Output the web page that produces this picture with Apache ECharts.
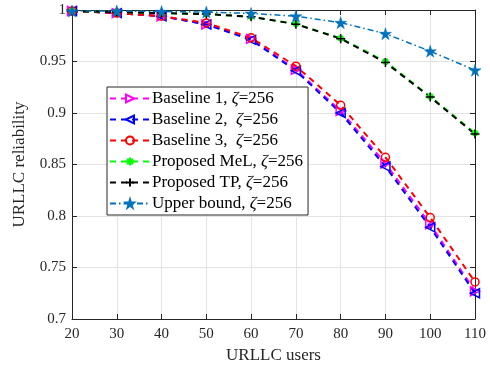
<!DOCTYPE html>
<html><head><meta charset="utf-8">
<script src="https://cdn.jsdelivr.net/npm/echarts@6/dist/echarts.min.js"></script>
<style>html,body{margin:0;padding:0;background:#fff}#c{width:490px;height:370px}</style>
</head><body><div id="c"></div>
<script>
const users = [20, 30, 40, 50, 60, 70, 80, 90, 100, 110];
const baseline1 = [0.999, 0.997, 0.994, 0.986, 0.972, 0.942, 0.902, 0.851, 0.792, 0.727];
const baseline2 = [0.999, 0.997, 0.994, 0.986, 0.971, 0.941, 0.900, 0.848, 0.789, 0.725];
const baseline3 = [0.999, 0.997, 0.994, 0.9875, 0.973, 0.9455, 0.9075, 0.857, 0.7985, 0.736];
const proposedMeL = [0.999, 0.998, 0.997, 0.996, 0.9935, 0.9865, 0.9725, 0.950, 0.916, 0.8805];
const proposedTP = [0.999, 0.998, 0.997, 0.996, 0.9935, 0.9862, 0.9722, 0.949, 0.9155, 0.8795];
const upperBound = [0.999, 0.999, 0.9985, 0.998, 0.9967, 0.994, 0.9877, 0.977, 0.960, 0.9415];
const xTicks = [20, 30, 40, 50, 60, 70, 80, 90, 100, 110];
const yTicks = ['0.7', '0.75', '0.8', '0.85', '0.9', '0.95', '1'];
const names = ['Baseline 1, ', 'Baseline 2,  ', 'Baseline 3,  ', 'Proposed MeL, ', 'Proposed TP, ', 'Upper bound, '];

const STAR = 'path://M50,0 L61,35 L98,35 L68,57 L79,91 L50,70 L21,91 L32,57 L2,35 L39,35 Z';
const PLUS = 'path://M0,5 L10,5 M5,0 L5,10';
const AST = 'path://M0,5 L10,5 M5,0 L5,10 M1.5,1.5 L8.5,8.5 M8.5,1.5 L1.5,8.5';
const FONT = 'Liberation Serif';

function pairs(v){ return users.map((u,i)=>[u, v[i]]); }

function ser(name, data, color, opt){
  return Object.assign({
    name: name, type: 'line', data: pairs(data),
    lineStyle: {color: color, width: 2, type: [6, 5]},
    itemStyle: {color: 'rgba(255,255,255,0)', borderColor: color, borderWidth: 1.5},
    symbolSize: 8, z: 3
  }, opt);
}

const series = [
  ser(names[0], baseline1, '#ff00ff', {symbol: 'triangle', symbolRotate: -90, symbolSize: 9}),
  ser(names[1], baseline2, '#0000ff', {symbol: 'triangle', symbolRotate: 90, symbolSize: 9}),
  ser(names[2], baseline3, '#ff0000', {symbol: 'circle', symbolSize: 8}),
  ser(names[3], proposedMeL, '#00ff00', {symbol: AST, symbolSize: 7, itemStyle: {color: '#00ff00', borderColor: '#00ff00', borderWidth: 2}}),
  ser(names[4], proposedTP, '#000000', {symbol: PLUS, symbolSize: 9, itemStyle: {color: '#000', borderColor: '#000', borderWidth: 1.5}}),
  ser(names[5], upperBound, '#0072bd', {symbol: STAR, symbolSize: 12,
    lineStyle: {color: '#0072bd', width: 1.5, type: [6, 3, 1.5, 3]},
    itemStyle: {color: '#0072bd', borderColor: '#0072bd', borderWidth: 0.5}})
];

const axisLine = {show: true, lineStyle: {color: '#262626', width: 1}};
const axisTick = {show: true, inside: true, length: 5, lineStyle: {color: '#262626'}};
const lbl = {fontFamily: FONT, fontSize: 15, color: '#262626'};

const chart = echarts.init(document.getElementById('c'));
chart.setOption({
  animation: false,
  backgroundColor: '#fff',
  grid: {left: 72, right: 15, top: 10, bottom: 51},
  legend: {
    orient: 'vertical', left: 107, top: 87,
    backgroundColor: '#fff', borderColor: '#262626', borderWidth: 1,
    padding: [3, 5, 3, 2], itemGap: 4, itemWidth: 40, itemHeight: 10,
    textStyle: {fontFamily: FONT, fontSize: 17, color: '#000', padding: [0,0,0,-3],
      rich: {n: {fontFamily: FONT, fontSize: 17, color: '#000'}, z: {fontFamily: FONT, fontSize: 17, fontStyle: 'italic', color: '#000'}}},
    formatter: function(n){ return '{n|' + n + '}{z|ζ}{n|=256}'; },
    data: names
  },
  xAxis: [{
    type: 'value', min: 20, max: 110, interval: 10,
    name: 'URLLC users', nameLocation: 'middle', nameGap: 27,
    nameTextStyle: {fontFamily: FONT, fontSize: 17, color: '#262626'},
    axisLine: axisLine, axisTick: axisTick,
    axisLabel: Object.assign({margin: 8, formatter: v => String(xTicks[xTicks.indexOf(v)])}, lbl),
    splitLine: {show: true, lineStyle: {color: '#e3e3e3', width: 1}}
  }, {
    type: 'value', position: 'top', min: 20, max: 110, interval: 10,
    axisLine: axisLine, axisTick: axisTick, axisLabel: {show: false}, splitLine: {show: false}
  }],
  yAxis: [{
    type: 'value', min: 0.7, max: 1, interval: 0.05,
    name: 'URLLC reliability', nameLocation: 'middle', nameGap: 44,
    nameTextStyle: {fontFamily: FONT, fontSize: 17, color: '#262626'},
    axisLine: axisLine, axisTick: axisTick,
    axisLabel: Object.assign({margin: 6, formatter: v => yTicks[Math.round((v - 0.7) / 0.05)]}, lbl),
    splitLine: {show: true, lineStyle: {color: '#e3e3e3', width: 1}}
  }, {
    type: 'value', position: 'right', min: 0.7, max: 1, interval: 0.05,
    axisLine: axisLine, axisTick: axisTick, axisLabel: {show: false}, splitLine: {show: false}
  }],
  series: series
});
</script></body></html>
